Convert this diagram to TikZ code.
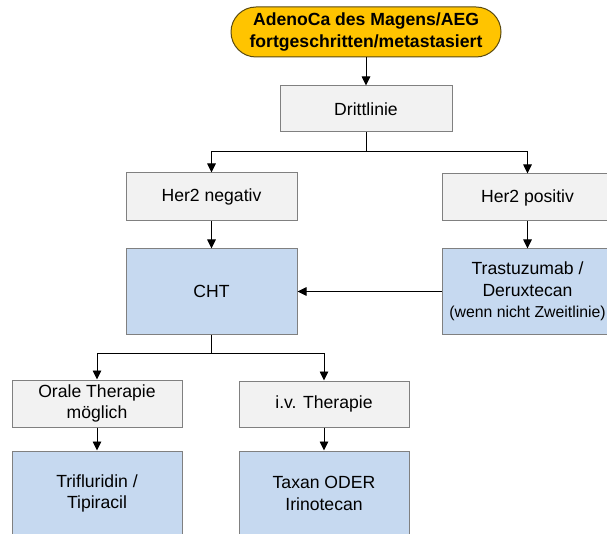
\documentclass[tikz,border=0pt]{standalone}
\usepackage{fontspec}
\setmainfont{Liberation Sans}
\usetikzlibrary{arrows.meta}
\definecolor{gold}{HTML}{FFC400}
\definecolor{goldline}{HTML}{5A4A10}
\definecolor{boxgray}{HTML}{F2F2F2}
\definecolor{boxblue}{HTML}{C6D9F0}
\definecolor{edgegray}{HTML}{808080}
\begin{document}
\begin{tikzpicture}[x=1pt,y=-1pt,
  base/.style={draw=edgegray,line width=1pt,align=center,inner sep=0pt,
    font=\fontsize{17.6}{21.5}\selectfont},
  graybox/.style={base,fill=boxgray,minimum width=171pt,minimum height=47pt},
  bluebox/.style={base,fill=boxblue,minimum width=171pt,minimum height=85pt},
  startbox/.style={base,draw=goldline,fill=gold,rounded corners=25pt,
    minimum width=270pt,minimum height=50pt,font=\bfseries\fontsize{17.6}{21.5}\selectfont},
  arr/.style={line width=0.9pt,-{Triangle[width=8.5pt,length=9pt]}},
  ln/.style={line width=0.9pt}]
\useasboundingbox (0,0) rectangle (607,534);
\node[startbox] (top) at (366,32) {AdenoCa des Magens/AEG\\fortgeschritten/metastasiert};
\node[graybox,minimum width=172pt,minimum height=46pt] (drit) at (366,109) {Drittlinie};
\node[graybox,minimum height=48pt] (neg) at (211.5,197) {Her2 negativ};
\node[graybox] (pos) at (527.5,197.5) {Her2 positiv};
\node[bluebox] (cht) at (211.5,291.5) {CHT};
\node[bluebox] (tras) at (527.5,291.5) {Trastuzumab /\\Deruxtecan\\{\fontsize{15.8}{21.5}\selectfont (wenn nicht Zweitlinie)}};
\node[graybox,minimum width=170pt] (oral) at (97,403.5) {Orale Therapie\\möglich};
\node[graybox,minimum width=170pt,minimum height=46pt] (iv) at (324,404) {i.v. Therapie};
\node[bluebox,minimum width=170pt] (tri) at (97,493.5) {Trifluridin /\\Tipiracil};
\node[bluebox,minimum width=170pt] (tax) at (324,493.5) {Taxan ODER\\Irinotecan};
\coordinate (s1) at (366,151);
\coordinate (s2) at (211.5,353);
\draw[arr] (top) -- (drit);
\draw[ln] (drit.south) -- (s1);
\draw[arr] (s1) -| (neg.north);
\draw[arr] (s1) -| (pos.north);
\draw[arr] (neg) -- (cht);
\draw[arr] (pos) -- (tras);
\draw[arr] (tras.west) -- (cht.east);
\draw[ln] (cht.south) -- (s2);
\draw[arr] (s2) -| (oral.north);
\draw[arr] (s2) -| (iv.north);
\draw[arr] (oral) -- (tri);
\draw[arr] (iv) -- (tax);
\end{tikzpicture}
\end{document}
